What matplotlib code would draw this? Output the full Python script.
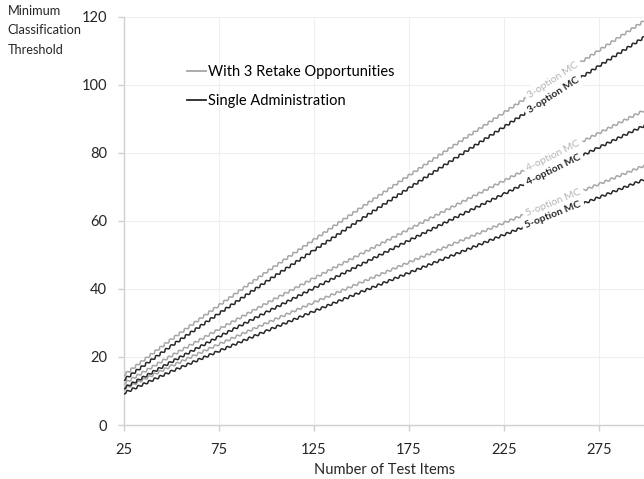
import numpy as np
import matplotlib
matplotlib.use("Agg")
import matplotlib.pyplot as plt
from matplotlib.lines import Line2D

plt.rcParams['font.family'] = ['Lato', 'DejaVu Sans']

# number of test items (values read at every 25 items)
items = [25, 50, 75, 100, 125, 150, 175, 200, 225, 250, 275, 300]

# minimum classification threshold
mc3_retake = [14.6, 25.1, 35.1, 44.9, 54.4, 63.9, 73.3, 82.6, 91.8, 101.0, 110.1, 119.2]
mc3_single = [13.2, 23.2, 32.7, 42.1, 51.3, 60.5, 69.6, 78.6, 87.6, 96.6, 105.5, 114.4]
mc4_retake = [12.1, 20.3, 28.1, 35.7, 43.1, 50.3, 57.5, 64.7, 71.8, 78.8, 85.8, 92.8]
mc4_single = [10.8, 18.5, 25.9, 33.1, 40.2, 47.2, 54.2, 61.1, 67.9, 74.8, 81.6, 88.3]
mc5_retake = [10.5, 17.3, 23.7, 29.9, 36.0, 41.9, 47.8, 53.6, 59.4, 65.1, 70.8, 76.5]
mc5_single = [9.3, 15.7, 21.7, 27.6, 33.4, 39.1, 44.7, 50.3, 55.9, 61.4, 66.9, 72.4]

series_labels = ['3-option MC', '4-option MC', '5-option MC']
legend_labels = ['With 3 Retake Opportunities', 'Single Administration']
xticks = [25, 75, 125, 175, 225, 275]
yticks = [0, 20, 40, 60, 80, 100, 120]

gray = '#a6a6a6'
dark = '#262626'

fig = plt.figure(figsize=(6.44, 4.79), dpi=100)
ax = fig.add_axes([0.1918, 0.1127, 0.8121, 0.8524])
ax.set_xlim(25, 300)
ax.set_ylim(0, 120)

retakes = [mc3_retake, mc4_retake, mc5_retake]
singles = [mc3_single, mc4_single, mc5_single]

for vals, col in [(v, gray) for v in retakes] + [(v, dark) for v in singles]:
    ln, = ax.plot(items, vals, color=col, lw=1.1, zorder=3)
    ln.set_sketch_params(scale=1.1, length=6, randomness=1)

# in-line labels, sitting in a gap of each line
lab_x = 251
for name, r, s in zip(series_labels, retakes, singles):
    for vals, col, wt in [(r, '#b4b4b4', 'normal'), (s, dark, 'bold')]:
        y = np.interp(lab_x, items, vals)
        p1 = ax.transData.transform((225, np.interp(225, items, vals)))
        p2 = ax.transData.transform((275, np.interp(275, items, vals)))
        ang = np.degrees(np.arctan2(p2[1] - p1[1], p2[0] - p1[0]))
        ax.text(lab_x, y, name, color=col, fontsize=7.5, fontweight=wt,
                rotation=ang, rotation_mode='anchor', ha='center', va='center',
                zorder=5, bbox=dict(facecolor='white', edgecolor='none', pad=2.5))

ax.set_xticks(xticks)
ax.set_yticks(yticks)
ax.grid(True, color='#efefef', lw=0.8)
ax.set_axisbelow(True)
for sp in ['top', 'right']:
    ax.spines[sp].set_visible(False)
for sp in ['left', 'bottom']:
    ax.spines[sp].set_color('#d0d0d0')
    ax.spines[sp].set_linewidth(1.0)
ax.tick_params(axis='both', colors='#d0d0d0', labelcolor='#262626',
               labelsize=10.5, length=4, width=1.0)
ax.tick_params(axis='y', pad=8)
ax.tick_params(axis='x', pad=9)

ax.set_xlabel('Number of Test Items', fontsize=10.5, color='#262626', labelpad=4)
fig.text(0.012, 0.99, 'Minimum\nClassification\nThreshold', fontsize=9.2,
         color='#262626', ha='left', va='top', linespacing=1.75)

handles = [Line2D([], [], color=gray, lw=1.3), Line2D([], [], color=dark, lw=1.3)]
ax.legend(handles, legend_labels, loc='upper left', frameon=False,
          bbox_to_anchor=(0.290, 0.864), bbox_transform=fig.transFigure,
          fontsize=10.5, handlelength=1.3, handletextpad=0.15, labelspacing=1.0,
          borderpad=0, borderaxespad=0)

fig.savefig('out.png', dpi=100)
